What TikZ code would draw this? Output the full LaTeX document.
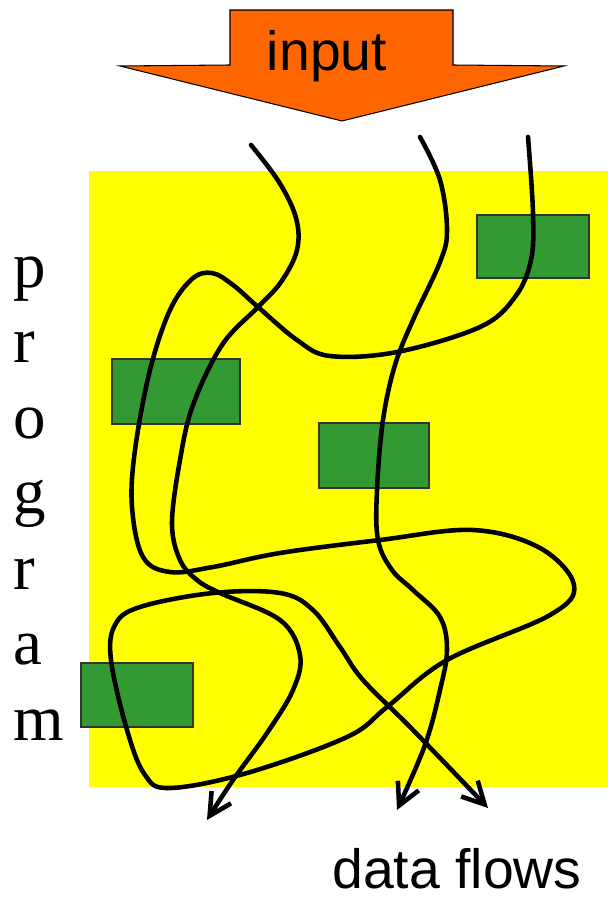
\documentclass[tikz,border=0pt]{standalone}
\usepackage{fontspec}
\setmainfont{Liberation Serif}
\setsansfont{Liberation Sans}
\usetikzlibrary{arrows.meta}
\definecolor{progyellow}{HTML}{FFFF00}
\definecolor{blockgreen}{HTML}{339933}
\definecolor{inorange}{HTML}{FF6600}
\tikzset{
  block/.style={fill=blockgreen, draw=black!80, line width=0.7pt},
  flow/.style={line width=2.6pt, line cap=round, line join=round},
  flowout/.style={flow, -{Straight Barb[length=4.4mm, width=4.6mm, line width=2.6pt]}},
  letter/.style={anchor=base west, inner sep=0pt, font=\fontsize{37}{40}\selectfont}
}
\begin{document}
\begin{tikzpicture}[x=0.02cm, y=-0.02cm]
      \useasboundingbox (0,0) rectangle (608,902);
      % program area
      \fill[progyellow] (89,171) rectangle (608,787);
      % input arrow
      \draw[fill=inorange, line width=0.6pt] (230,10) -- (453,10) -- (453,65) -- (564,66)
        -- (342,121) -- (120,66) -- (230,65) -- cycle;
      \node[anchor=base, inner sep=0pt, font=\sffamily\fontsize{31.5}{36}\selectfont] (input) at (327,71) {input};
      % blocks
      \draw[block] (477,215) rectangle (589,278);
      \draw[block] (112,359) rectangle (240,424);
      \draw[block] (319,423) rectangle (429,488);
      \draw[block] (81,663) rectangle (193,727);
      % letters
      \foreach \ch [count=\i from 0] in {p,r,o,g,r,a,m}
        \node[letter] (l\i) at (13,287+75.5*\i) {\ch};
      % ends of the flows
      \coordinate (s1) at (251,145);
      \coordinate (s2) at (420,137);
      \coordinate (s3) at (528,137);
      \coordinate (e1) at (207,820);
      \coordinate (e2) at (397,810);
      \coordinate (e3) at (488,808);
      % flows
      \draw[flowout] plot[smooth, tension=0.6] coordinates {(s1) (279,182) (296,218) (297,250)
        (281,282) (258,307) (222,345) (193,405) (180,460) (172,523) (180,560) (197,580) (220,593)
        (280,620) (300,655) (293,690) (267,733) (233,780) (e1)};
      \draw[flowout] plot[smooth, tension=0.6] coordinates {(s2) (440,180) (447,230) (440,262)
        (413,320) (395,365) (383,420) (377,490) (378,540) (392,570) (413,590)
        (440,617) (447,650) (440,690) (425,745) (e2)};
      \draw[flowout] plot[smooth, tension=0.6] coordinates {(s3) (533,213) (531,260) (515,297)
        (480,327) (397,352) (330,356) (297,340) (258,307) (233,285) (212,273) (192,279) (170,310)
        (150,370) (135,450) (132,507) (143,557) (170,572) (213,567) (280,553) (380,540) (473,530) (540,548)
        (574,585) (550,615) (447,660) (387,707) (347,737) (247,773) (170,788) (145,775) (127,730)
        (111,660) (115,625) (140,607) (213,593) (280,593) (313,610) (340,647) (363,680) (413,730)
        (e3)};
      \node[anchor=base west, inner sep=0pt, font=\sffamily\fontsize{31.5}{36}\selectfont] (label) at (332,888) {data flows};
\end{tikzpicture}
\end{document}
